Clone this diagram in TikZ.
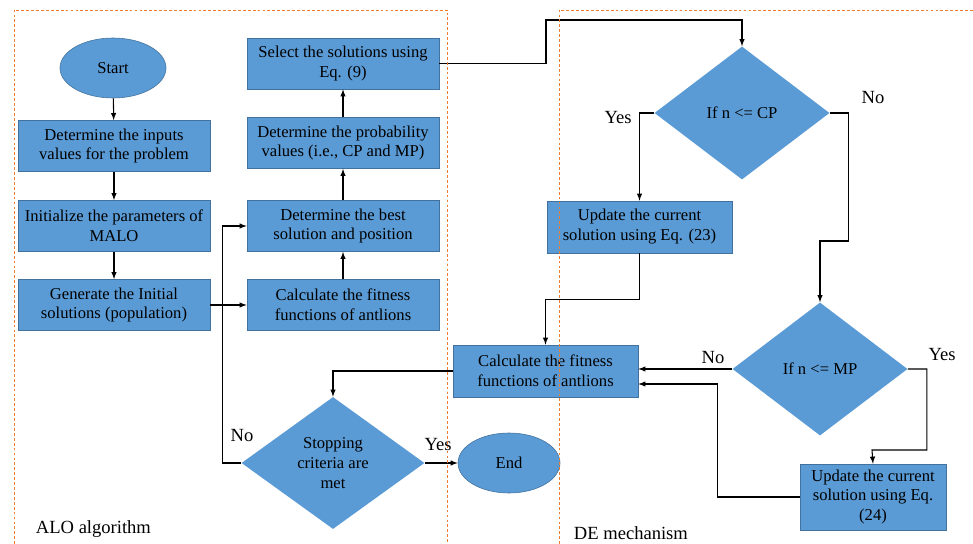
\documentclass[tikz,border=0pt]{standalone}
\usepackage{fontspec}
\setmainfont{Liberation Serif}
\usepackage{tikz}
\usetikzlibrary{arrows,calc,positioning,shapes.geometric}
\definecolor{boxblue}{HTML}{5B9BD5}
\definecolor{boxedge}{HTML}{41719C}
\definecolor{frameorange}{HTML}{ED7D31}
\tikzset{%
	terminal/.style = {draw=boxedge, fill=boxblue, ellipse, minimum width=2.65cm, minimum height=1.5cm, inner sep=0pt, font=\fontsize{11.8}{14.2}\selectfont},
	block/.style    = {draw=boxedge, fill=boxblue, rectangle, minimum width=4.8cm, minimum height=1.28cm, inner sep=1pt, align=center, font=\fontsize{11.8}{14.2}\selectfont},
	choice/.style   = {draw=none, fill=boxblue, diamond, minimum width=4.375cm, minimum height=3.325cm, inner sep=0pt, align=center, font=\fontsize{11.8}{14.2}\selectfont},
	flow/.style     = {line width=0.75pt, -latex},
	tag/.style      = {font=\fontsize{13.2}{15}\selectfont},
	frame/.style    = {draw=frameorange, line width=0.6pt, dash pattern=on 2pt off 1.5pt},
}
\begin{document}
\begin{tikzpicture}[x=0.025cm, y=-0.025cm]
	\useasboundingbox (0,0) rectangle (973,544);

	% ALO part
	\node[terminal] (start) at (113,68) {Start};
	\node[block] (inputs) at (114,146) {Determine the inputs\\values for the problem};
	\node[block] (init) at (114,226) {Initialize the parameters of\\MALO};
	\node[block] (gen) at (114,305) {Generate the Initial\\solutions (population)};
	\node[block] (fitA) at (343,305) {Calculate the fitness\\functions of antlions};
	\node[block] (best) at (343,226) {Determine the best\\solution and position};
	\node[block] (prob) at (343,143) {Determine the probability\\values (i.e., CP and MP)};
	\node[block] (select) at (343,63.5) {Select the solutions using\\Eq. (9)};
	\node[choice, minimum width=4.575cm, minimum height=3.3cm] (stop) at (333,463) {Stopping\\criteria are\\met};
	\node[terminal, minimum width=2.55cm] (end) at (509,463) {End};

	% DE part
	\node[choice] (cp) at (742,113) {If n <= CP};
	\node[block, minimum width=4.625cm, minimum height=1.3cm] (upd23) at (639.5,227) {Update the current\\solution using Eq. (23)};
	\node[choice] (mp) at (820,369) {If n <= MP};
	\node[block, minimum width=4.625cm, minimum height=1.3cm] (fitB) at (545.5,371) {Calculate the fitness\\functions of antlions};
	\node[block, minimum width=3.65cm, minimum height=1.65cm] (upd24) at (873,497) {Update the current\\solution using Eq.\\(24)};

	\coordinate (over) at (546,20);
	\coordinate (cpno) at (820,241);
	\coordinate (mpyes) at (872,450);

	\draw[flow] (start) -- (inputs);
	\draw[flow] (inputs) -- (init);
	\draw[flow] (init) -- (gen);
	\draw[flow] (gen) -- (fitA);
	\draw[flow] (fitA) -- (best);
	\draw[flow] (best) -- (prob);
	\draw[flow] (prob) -- (select);
	\draw[flow] (stop.west) -- ++(-19,0) |- (best.west);
	\draw[flow] (stop.east) -- (end.west);
	\draw[flow] (select.east) -| (over) -| (cp.north);
	\draw[flow] (cp.west) -| (upd23.north);
	\draw[flow] (cp.east) -- ++(19,0) |- (cpno) -- (mp.north);
	\draw[flow] (upd23.south) -- ++(0,46) -| (fitB.north);
	\draw[flow] (mp.west) -- (mp.west -| fitB.east);
	\draw[flow] (mp.east) -- ++(19,0) |- (mpyes) -- (upd24.north);
	\draw[flow] (upd24.west) -- ++(-82,0) |- ([yshift=-0.325cm]fitB.east);
	\draw[flow] (fitB.west) -| (stop.north);

	% labels
	\node[tag] (noA) at (242,436) {No};
	\node[tag] (yesA) at (438,445) {Yes};
	\node[tag] (yesB) at (618,118) {Yes};
	\node[tag] (noB) at (873,98) {No};
	\node[tag] (noC) at (713,358) {No};
	\node[tag] (yesC) at (942,355) {Yes};
	\node[tag, anchor=west] (alo) at (31,529) {ALO algorithm};
	\node[tag, anchor=west] (de) at (569,533) {DE mechanism};

	% frames
	\draw[frame] (14,544) |- (447,10) -- (447,544);
	\draw[frame] (559,544) |- (973,10);
\end{tikzpicture}
\end{document}
